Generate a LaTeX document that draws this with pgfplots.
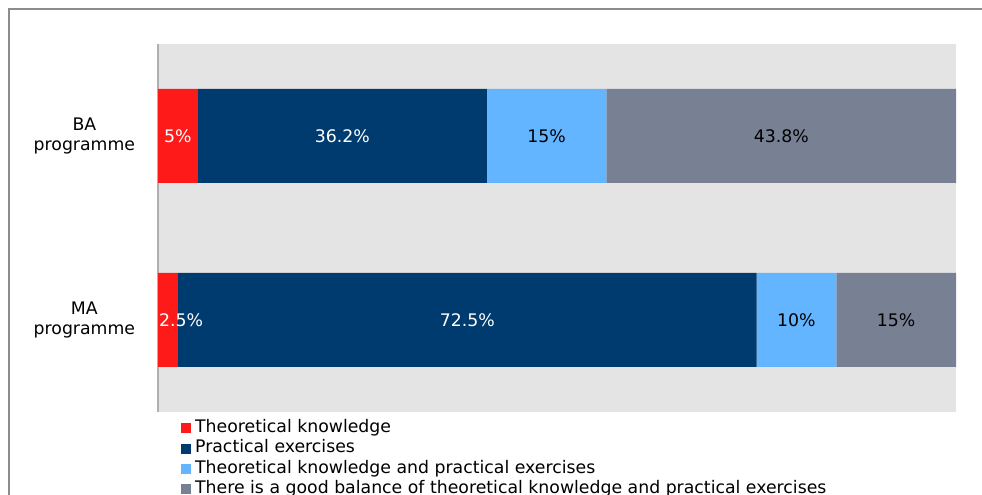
\documentclass[border=0pt]{standalone}
\usepackage{pgfplots}
\pgfplotsset{compat=1.18}
\usepackage{fontspec}
\setmainfont{DejaVu Sans}
\definecolor{cRed}{RGB}{255,26,26}
\definecolor{cNavy}{RGB}{0,59,112}
\definecolor{cLight}{RGB}{99,181,255}
\definecolor{cGray}{RGB}{120,128,148}
\definecolor{bgGray}{RGB}{228,228,228}
\definecolor{axGray}{RGB}{175,175,175}
\definecolor{frGray}{RGB}{140,140,140}
\begin{document}
\fontsize{17.3}{21}\selectfont
\begin{tikzpicture}
\useasboundingbox (0,0) rectangle (982pt,495pt);
\draw[frGray, line width=1.5pt] (9pt,0) -- (9pt,486pt) -- (982pt,486pt);
\begin{axis}[
  at={(158pt,83pt)}, anchor=south west,
  scale only axis, width=798pt, height=368pt,
  xbar stacked, bar width=94pt,
  xmin=0, xmax=100, ymin=-0.5, ymax=1.5,
  axis background/.style={fill=bgGray},
  axis x line=none, axis y line=left,
  axis line style={-, draw=axGray, line width=1.5pt},
  ytick={0,1}, yticklabels={MA\\programme, BA\\programme},
  yticklabel style={align=center, font=\fontsize{17.3}{20}\selectfont, xshift=-17pt},
  major tick length=0pt,
  /pgf/number format/assume math mode=true,
  visualization depends on={rawx \as \rawx},
  nodes near coords={\pgfmathprintnumber[fixed,precision=1,assume math mode=true]{\rawx}\%},
  every node near coord/.append style={anchor=center, font=\fontsize{17.3}{20}\selectfont},
  legend style={at={(0.025,-0.011)}, anchor=north west, draw=none, fill=none,
    font=\fontsize{17.3}{20}\selectfont, row sep=0pt,
    nodes={inner sep=0pt, inner xsep=4pt, text height=12.5pt, text depth=4pt, minimum height=20.3pt}},
  legend cell align=left,
  legend image code/.code={\fill[#1] (0pt,-5pt) rectangle (10pt,5pt);},
]
\addplot[fill=cRed, draw=none, every node near coord/.append style={text=white, xshift={ifthenelse(\rawx<3,13,0)*1pt}}] coordinates {(2.5,0) (5,1)};
\addplot[fill=cNavy, draw=none, every node near coord/.append style={text=white}] coordinates {(72.5,0) (36.2,1)};
\addplot[fill=cLight, draw=none, every node near coord/.append style={text=black}] coordinates {(10,0) (15,1)};
\addplot[fill=cGray, draw=none, every node near coord/.append style={text=black}] coordinates {(15,0) (43.8,1)};
\legend{Theoretical knowledge, Practical exercises, Theoretical knowledge and practical exercises, There is a good balance of theoretical knowledge and practical exercises}
\end{axis}
\end{tikzpicture}
\end{document}
